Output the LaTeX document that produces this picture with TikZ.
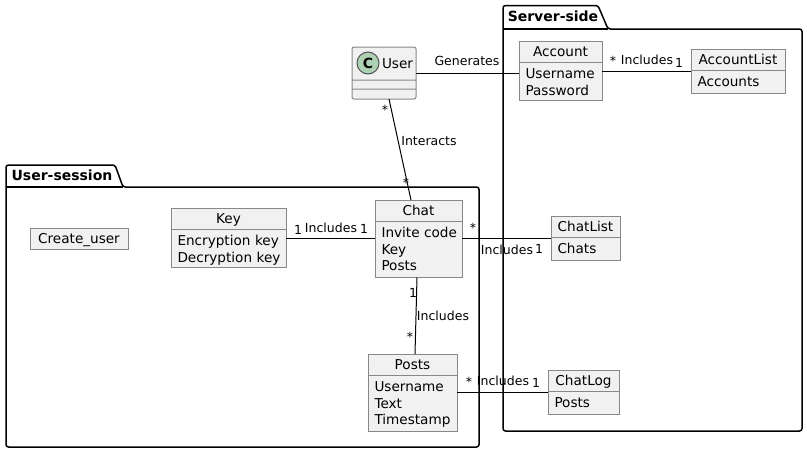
\documentclass[tikz,border=0pt]{standalone}
\usepackage{fontspec}
\setmainfont{DejaVu Sans}
\usetikzlibrary{shapes.multipart}
\definecolor{boxfill}{HTML}{F1F1F1}
\definecolor{boxline}{HTML}{888888}
\definecolor{spotfill}{HTML}{ADD1B2}
\newcommand{\classhead}[1]{\rule[-6pt]{0pt}{20.5pt}#1}
\newcommand{\classbody}[2][6.5pt]{\rule{0pt}{15.5pt}#2\rule[-#1]{0pt}{#1}}
\tikzset{
	classbox/.style={rectangle split,rectangle split parts=2,draw=boxline,fill=boxfill,
		anchor=north west,inner xsep=6.5pt,inner ysep=0pt,outer sep=0pt,line width=1pt,
		font=\fontsize{13.6}{16.5}\selectfont,
		every text node part/.style={align=center},
		every two node part/.style={align=left}},
	package/.style={line width=1.5pt,rounded corners=2.5pt},
	packtitle/.style={font=\fontsize{14}{16}\selectfont\bfseries,inner sep=0pt},
	assoc/.style={line width=1pt},
	tag/.style={font=\fontsize{12.5}{15}\selectfont,inner sep=0pt}
}

\begin{document}
\begin{tikzpicture}[x=1pt,y=-1pt]
\useasboundingbox (0,0) rectangle (807,453);

\draw[package] (503,29) -- (503,5.5) -- (598,5.5) -- (608,29) -- (802,29) -- (802,431) -- (503,431) -- cycle;
\draw[package] (503,29) -- (608,29);
\node[packtitle] (servertitle) at (553,16) {Server-side};
\draw[package] (6,187) -- (6,165) -- (115,165) -- (123,187) -- (479,187) -- (479,447) -- (6,447) -- cycle;
\draw[package] (6,187) -- (123,187);
\node[packtitle] (sessiontitle) at (62,175) {User-session};

\node[classbox,rectangle split parts=3,rounded corners=2pt,text width=51pt,
	every text node part/.style={align=left}] (user) at (352,47)
	{\rule[-11pt]{0pt}{32pt}\hspace*{23.5pt}User\nodepart{two}\rule{0pt}{8pt}\nodepart{three}\rule{0pt}{9pt}};
\node[circle,draw=boxline!60!black,fill=spotfill,line width=1pt,minimum size=22pt,inner sep=0pt,
	font=\fontsize{14}{16}\selectfont\bfseries] (userspot) at (368,63) {C};
\node[classbox,text width=70pt] (account) at (519,41) {\classhead{Account}\nodepart{two}\classbody[4.5pt]{Username\\Password}};
\node[classbox,text width=81pt] (accountlist) at (691,49) {\classhead{AccountList}\nodepart{two}\classbody{Accounts}};
\node[classbox,rectangle split parts=1,text width=85pt] (createuser) at (30,228) {\classhead{Create\_user}};
\node[classbox,text width=102pt] (key) at (171,208) {\classhead{Key}\nodepart{two}\classbody[4.5pt]{Encryption~key\\Decryption~key}};
\node[classbox,text width=74pt] (chat) at (375,200) {\classhead{Chat}\nodepart{two}\classbody{Invite~code\\Key\\Posts}};
\node[classbox,text width=76pt] (posts) at (368,354) {\classhead{Posts}\nodepart{two}\classbody{Username\\Text\\Timestamp}};
\node[classbox,text width=56pt] (chatlist) at (551,216) {\classhead{ChatList}\nodepart{two}\classbody{Chats}};
\node[classbox,text width=58pt] (chatlog) at (548,370) {\classhead{ChatLog}\nodepart{two}\classbody{Posts}};

\draw[assoc] (user.east) -- (user.east -| account.west);
\draw[assoc] (accountlist.west -| account.east) -- (accountlist.west);
\draw[assoc] ([xshift=5pt]user.south) -- ([xshift=-7.5pt]chat.north);
\draw[assoc] (chat.west -| key.east) -- (chat.west);
\draw[assoc] (chatlist.west -| chat.east) -- (chatlist.west);
\draw[assoc] ([xshift=-1.5pt]chat.south) -- ([xshift=2.5pt]posts.north);
\draw[assoc] (chatlog.west -| posts.east) -- (chatlog.west);

\node[tag] (generates) at (467,61) {Generates};
\node[tag] (accmany) at (613,61) {*};
\node[tag] (accincl) at (647,60) {Includes};
\node[tag] (accone) at (679,63) {1};
\node[tag] (usermany) at (385,110) {*};
\node[tag] (interacts) at (429,141) {Interacts};
\node[tag] (chatmany) at (406,183) {*};
\node[tag] (keyone) at (298,230) {1};
\node[tag] (keyincl) at (331,228) {Includes};
\node[tag] (chatone) at (364,229) {1};
\node[tag] (listmany) at (473,228) {*};
\node[tag] (listincl) at (507,250) {Includes};
\node[tag] (listone) at (539,249) {1};
\node[tag] (postone) at (413,293) {1};
\node[tag] (postincl) at (443,316) {Includes};
\node[tag] (postmany) at (410,337) {*};
\node[tag] (logmany) at (469,382) {*};
\node[tag] (logincl) at (503,381) {Includes};
\node[tag] (logone) at (536,383) {1};
\end{tikzpicture}
\end{document}
